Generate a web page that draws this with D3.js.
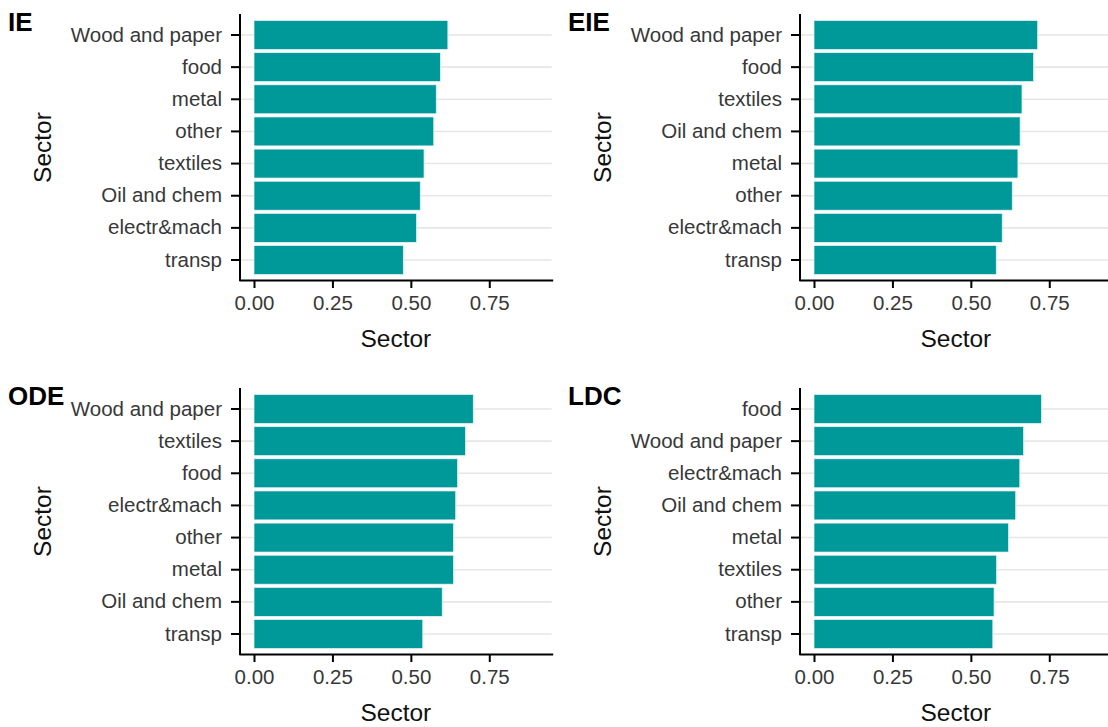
<!DOCTYPE html>
<html>
<head>
<meta charset="utf-8">
<script src="https://cdn.jsdelivr.net/npm/d3@7"></script>
<style>
  html, body { margin: 0; padding: 0; background: #fff; }
  svg { display: block; font-family: "Liberation Sans", Arial, Helvetica, sans-serif; }
</style>
</head>
<body>
<svg id="chart" width="1108" height="727"></svg>
<script>
// Sector shares by country group, listed top-to-bottom as drawn
const sectorsIE  = ["Wood and paper", "food", "metal", "other", "textiles", "Oil and chem", "electr&mach", "transp"];
const valuesIE   = [0.618, 0.594, 0.581, 0.573, 0.542, 0.530, 0.518, 0.476];

const sectorsEIE = ["Wood and paper", "food", "textiles", "Oil and chem", "metal", "other", "electr&mach", "transp"];
const valuesEIE  = [0.713, 0.700, 0.663, 0.657, 0.650, 0.632, 0.600, 0.581];

const sectorsODE = ["Wood and paper", "textiles", "food", "electr&mach", "other", "metal", "Oil and chem", "transp"];
const valuesODE  = [0.699, 0.674, 0.649, 0.643, 0.636, 0.636, 0.600, 0.538];

const sectorsLDC = ["food", "Wood and paper", "electr&mach", "Oil and chem", "metal", "textiles", "other", "transp"];
const valuesLDC  = [0.725, 0.668, 0.656, 0.643, 0.620, 0.582, 0.574, 0.570];

const groupLabels = ["IE", "EIE", "ODE", "LDC"];
const xTicks = [0, 0.25, 0.5, 0.75];
const axisTitle = "Sector";

const panels = [
  { label: groupLabels[0], cats: sectorsIE,  vals: valuesIE,  ox: 0,   oy: 0 },
  { label: groupLabels[1], cats: sectorsEIE, vals: valuesEIE, ox: 560, oy: 0 },
  { label: groupLabels[2], cats: sectorsODE, vals: valuesODE, ox: 0,   oy: 374 },
  { label: groupLabels[3], cats: sectorsLDC, vals: valuesLDC, ox: 560, oy: 374 }
];

const svg = d3.select("#chart");

// plotting area of one panel (relative to the panel origin)
const plotLeft = 240, plotTop = 15.7, plotBottom = 279.3, plotWidth = 311.7;
const barFill = "#009999";

panels.forEach(p => {
  const g = svg.append("g").attr("transform", `translate(${p.ox},${p.oy})`);

  const x = d3.scaleLinear().domain([-0.0446, 0.949]).range([0, plotWidth]);
  const y = d3.scaleBand().domain(p.cats).range([plotTop, plotBottom])
    .paddingInner(0.1).paddingOuter(0.15);

  const plot = g.append("g").attr("transform", `translate(${plotLeft},0)`);

  // horizontal grid lines at each category
  plot.append("g").selectAll("line")
    .data(p.cats).join("line")
    .attr("x1", 0).attr("x2", plotWidth)
    .attr("y1", d => y(d) + y.bandwidth() / 2)
    .attr("y2", d => y(d) + y.bandwidth() / 2)
    .attr("stroke", "#e6e6e6").attr("stroke-width", 1.6);

  // bars
  plot.append("g").selectAll("rect")
    .data(p.cats.map((c, i) => ({ c, v: p.vals[i] })))
    .join("rect")
    .attr("x", x(0))
    .attr("y", d => y(d.c))
    .attr("width", d => x(d.v) - x(0))
    .attr("height", y.bandwidth())
    .attr("fill", barFill)
    .attr("stroke", "#e8f6f6").attr("stroke-width", 0.7);

  // y axis
  const yAxis = plot.append("g")
    .call(d3.axisLeft(y).tickSize(9).tickPadding(9).tickSizeOuter(0));
  // x axis
  const xAxis = plot.append("g").attr("transform", `translate(0,${plotBottom + 0.7})`)
    .call(d3.axisBottom(x).tickValues(xTicks).tickFormat(d3.format(".2f"))
      .tickSize(8).tickPadding(7).tickSizeOuter(0));

  [yAxis, xAxis].forEach(a => {
    a.select(".domain").attr("stroke", "#000").attr("stroke-width", 2)
      .attr("stroke-linecap", "square");
    a.selectAll(".tick line").attr("stroke", "#000").attr("stroke-width", 2);
    a.selectAll(".tick text").attr("fill", "#383838")
      .style("font-size", "20.5px").style("font-family", "Liberation Sans, Arial, sans-serif");
  });
  yAxis.select(".domain").attr("d", `M0,${plotTop - 0.7}V${plotBottom + 0.7}`);

  // axis titles
  g.append("text")
    .attr("x", plotLeft + plotWidth / 2).attr("y", 346.5)
    .attr("text-anchor", "middle")
    .style("font-size", "24.5px").attr("fill", "#111")
    .text(axisTitle);
  g.append("text")
    .attr("transform", `translate(51,${(plotTop + plotBottom) / 2}) rotate(-90)`)
    .attr("text-anchor", "middle")
    .style("font-size", "24.5px").attr("fill", "#111")
    .text(axisTitle);

  // panel label
  g.append("text")
    .attr("x", 8).attr("y", 30.5)
    .style("font-size", "26px").style("font-weight", "bold").attr("fill", "#000")
    .text(p.label);
});
</script>
</body>
</html>
